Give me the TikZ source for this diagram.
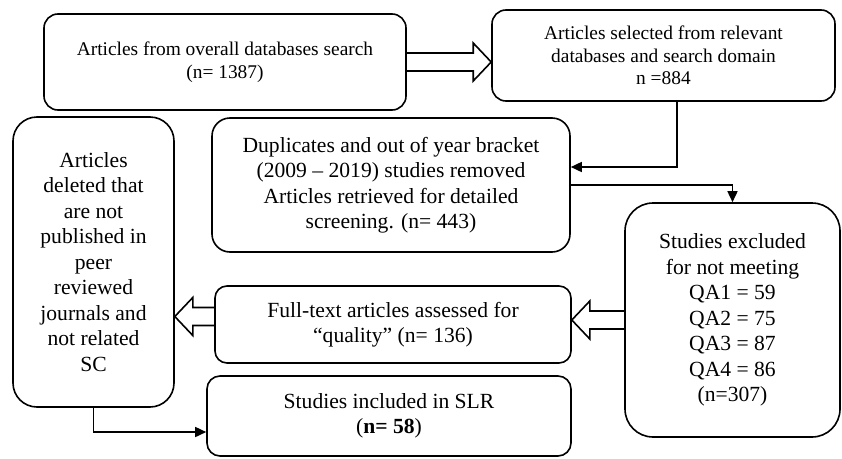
\documentclass[tikz,border=0pt]{standalone}
\usepackage{fontspec}
\setmainfont{Liberation Serif}
\usetikzlibrary{arrows.meta,calc}
\tikzset{>={Triangle[length=11pt,width=10pt]}}
\tikzset{
  box/.style={draw, line width=1.6pt, align=center, inner sep=2pt,
    font=\fontsize{21.6}{25.5}\selectfont},
  smallbox/.style={box, font=\fontsize{19.4}{22.6}\selectfont},
  link/.style={->, line width=1.6pt},
  fat/.style={line width=1.6pt, line join=miter}
}
% hollow block arrow from #1 to the tip #2 (same height)
\newcommand{\fatarrow}[2]{%
  \draw[fat] let \p1=(#1), \p2=(#2), \n1={sign(\x2-\x1)} in
    (\x1,\y1+9) -- (\x2-\n1*18,\y1+9) -- (\x2-\n1*18,\y1+19) -- (\x2,\y1)
    -- (\x2-\n1*18,\y1-19) -- (\x2-\n1*18,\y1-9) -- (\x1,\y1-9);}

\begin{document}
\begin{tikzpicture}[x=1pt,y=-1pt]
    \useasboundingbox (0,0) rectangle (842,458);
    \node[smallbox, rounded corners=14pt, minimum width=362pt, minimum height=96pt] (A) at (225,62)
        {Articles from overall databases search\\(n= 1387)};
    \node[smallbox, rounded corners=14pt, minimum width=343pt, minimum height=91pt] (B) at (663.5,55.5)
        {Articles selected from relevant\\databases and search domain\\n =884};
    \node[box, rounded corners=24pt, minimum width=161pt, minimum height=290pt] (L) at (93.5,262)
        {Articles\\deleted that\\are not\\published in\\peer\\reviewed\\journals and\\not related\\SC};
    \node[box, rounded corners=18pt, minimum width=358pt, minimum height=134pt] (D) at (391,185)
        {Duplicates and out of year bracket\\(2009 – 2019) studies removed\\Articles retrieved for detailed\\screening. (n= 443)};
    \node[box, rounded corners=12pt, minimum width=356pt, minimum height=77pt] (F) at (393,324.5)
        {Full-text articles assessed for\\“quality” (n= 136)};
    \node[box, rounded corners=13pt, minimum width=364pt, minimum height=80pt] (S) at (389,416)
        {Studies included in SLR\\(\textbf{n= 58})};
    \node[box, rounded corners=28pt, minimum width=215pt, minimum height=234pt] (E) at (732.5,320)
        {Studies excluded\\for not meeting\\QA1 = 59\\QA2 = 75\\QA3 = 87\\QA4 = 86\\(n=307)};

    \fatarrow{A.east}{A.east -| B.west}
    \fatarrow{E.west}{E.west -| F.east}
    \coordinate (f1) at ([yshift=8pt]F.west);
    \fatarrow{f1}{f1 -| L.east}

    \draw[link] ([xshift=13.5pt]B.south) |- ([yshift=18pt]D.east);
    \draw[link] (D.east) -| (E.north);
    \draw[link] (L.south) |- ([yshift=-16pt]S.west);
\end{tikzpicture}
\end{document}
